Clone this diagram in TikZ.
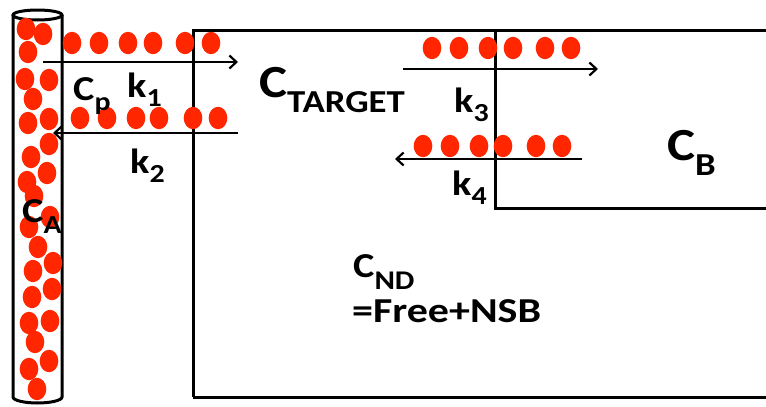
\documentclass[tikz,border=0pt]{standalone}
\usepackage{fontspec}
\usepackage{graphicx}
\setmainfont{Carlito}
\usetikzlibrary{arrows.meta}
\definecolor{dotred}{RGB}{255,38,0}
\newcommand\stx[1]{\scalebox{1.15}[1]{#1}}
\newcommand\csub[5]{{\fontsize{#3}{#3}\selectfont #1}\raisebox{-#5}{\fontsize{#4}{#4}\selectfont #2}}
\tikzset{
  dot/.style={fill=dotred, draw=none},
  wall/.style={line width=3pt, draw=black},
  flux/.style={line width=2.6pt, -{Straight Barb[length=7pt,width=13pt,line width=2.2pt]}},
  lbl/.style={inner sep=0pt, anchor=base west, font=\bfseries},
}
\begin{document}
\begin{tikzpicture}[x=1pt,y=-1pt]
\useasboundingbox (0,0) rectangle (766,407);
% compartments
\draw[wall] (193,397) -- (193,30) -- (770,30);
\draw[wall] (193,397) -- (770,397);
\draw[wall] (495,30) -- (495,208) -- (770,208);
% tube (blood vessel)
\draw[wall] (13,15) -- (13,397) arc[start angle=180,end angle=360,x radius=24.5pt,y radius=6pt] -- (62,15);
\draw[wall] (37.5,15) ellipse[x radius=24.5pt, y radius=5pt];
% dots
\foreach \x/\y in {26/29,43/34,28/52,25/79,49/80,33/99,28/123,49/119,49/144,31/157,47/173,27/182,34/196,
  50/217,29/227,38/247,53/263,33/271,52/289,32/297,50/321,29/323,35/342,49/361,29/369,37/389,
  72/43,99/43,128/43,153/43,185/43,211/43,
  80/118,107/118,136/118,159/118,193/118,218/118,
  432/48,459/48,488/48,513/48,545/48,571/48,
  423/146,450/146,479/146,503/146,536/146,562/146}
  \fill[dot] (\x,\y) ellipse[x radius=9.3pt, y radius=11.2pt];
% arrows
\coordinate (k1s) at (43,62);  \coordinate (k1e) at (238,62);
\coordinate (k2s) at (238,133); \coordinate (k2e) at (53,133);
\coordinate (k3s) at (403,69); \coordinate (k3e) at (598,69);
\coordinate (k4s) at (582,159); \coordinate (k4e) at (395,159);
\draw[flux] (k1s) -- (k1e);
\draw[flux] (k2s) -- (k2e);
\draw[flux] (k3s) -- (k3e);
\draw[flux] (k4s) -- (k4e);
% labels
\node[lbl] (cp) at (73,100) {\stx{\csub{C}{p}{35pt}{26pt}{10pt}}};
\node[lbl] (k1) at (127,97) {\stx{\csub{k}{1}{35pt}{26pt}{9pt}}};
\node[lbl] (k2) at (130,173) {\stx{\csub{k}{2}{35pt}{26pt}{9pt}}};
\node[lbl] (k3) at (454,112) {\stx{\csub{k}{3}{35pt}{26pt}{9pt}}};
\node[lbl] (k4) at (452,195) {\stx{\csub{k}{4}{35pt}{26pt}{9pt}}};
\node[lbl] (ct) at (259,97) {\stx{\csub{C}{TARGET}{46pt}{32pt}{15pt}}};
\node[lbl] (cb) at (667,160) {\stx{\csub{C}{B}{46pt}{32pt}{15pt}}};
\node[lbl] (ca) at (22,222) {\stx{\csub{C}{A}{35pt}{26pt}{11pt}}};
\node[lbl] (cnd) at (353,277) {\stx{\csub{C}{ND}{35pt}{27pt}{12pt}}};
\node[lbl] (free) at (352,322) {\scalebox{1.2}[1]{\fontsize{35pt}{35pt}\selectfont =Free+NSB}};
\end{tikzpicture}
\end{document}
